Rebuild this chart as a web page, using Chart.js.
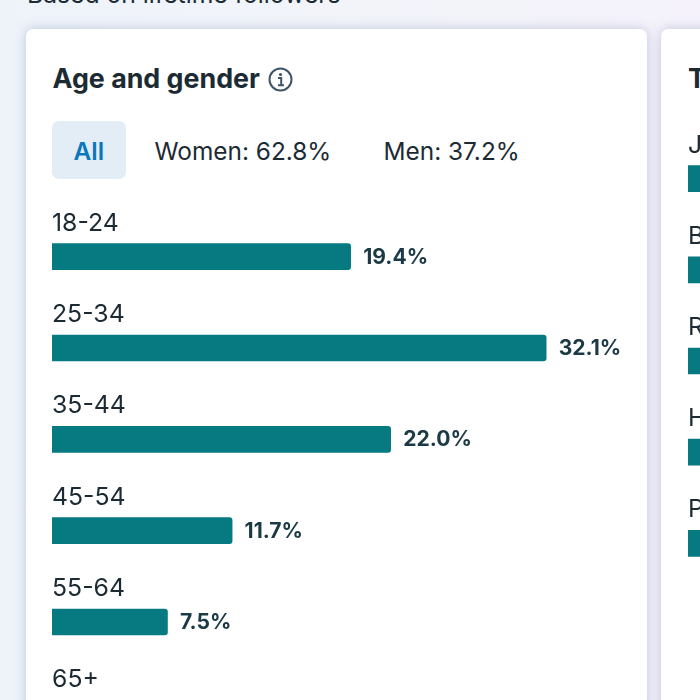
<!DOCTYPE html>
<html><head><meta charset="utf-8">
<script src="https://cdn.jsdelivr.net/npm/chart.js@4"></script>
<style>
html,body{margin:0;padding:0;width:700px;height:700px;overflow:hidden}
body{position:relative;background:linear-gradient(90deg,#eef3fa 0%,#f2f4fa 50%,#f5f2fb 100%);font-family:Inter,sans-serif;color:#1c2b33}
.abs{position:absolute;white-space:nowrap;line-height:1}
.card{position:absolute;top:29px;height:800px;background:#fff;border-radius:7px;box-shadow:0 0 12px rgba(110,130,170,.38)}
canvas{position:absolute}
</style></head><body>
<div class="abs" style="left:27px;top:-18px;font-size:24.7px">Based on lifetime followers</div>
<div class="card" style="left:26px;width:621px"></div>
<div class="card" style="left:661px;width:300px"></div>
<div class="abs" style="left:52.5px;top:65px;font-size:26.8px;font-weight:700">Age and gender</div>
<svg class="abs" style="left:268px;top:67px" width="25" height="25" viewBox="0 0 25 25"><circle cx="12.5" cy="12.5" r="11" fill="none" stroke="#3f5566" stroke-width="2"/><circle cx="12.5" cy="7.5" r="1.6" fill="#3f5566"/><path d="M10 11h3.2v7M10 18.2h6" fill="none" stroke="#3f5566" stroke-width="2"/></svg>
<div class="abs" style="left:52px;top:121px;width:74px;height:58px;background:#e3edf6;border-radius:7px"></div>
<div class="abs" style="left:73.5px;top:139px;font-size:24.4px;font-weight:600;color:#0b78bd">All</div>
<div class="abs" style="left:154.5px;top:139px;font-size:24.4px">Women: 62.8%</div>
<div class="abs" style="left:383.5px;top:139px;font-size:24.4px">Men: 37.2%</div>
<div class="abs" style="left:688px;top:65px;font-size:26.8px;font-weight:700">T</div>
<canvas id="age" style="left:52px;top:211px;width:585px;height:548px"></canvas>
<canvas id="other" style="left:688px;top:133px;width:585px;height:456px"></canvas>
<script>
const ageCategories = ["18-24","25-34","35-44","45-54","55-64","65+"];
const ageValues = [19.4,32.1,22.0,11.7,7.5,7.3];
const sideCategories = ["J","B","R","H","P"];
const sideValues = [20,14,10,8,6];
const teal = "#067a80";

const labelPlugin = {
  id:"barText",
  afterDatasetsDraw(chart,args,opts){
    const ctx = chart.ctx, meta = chart.getDatasetMeta(0), cats = chart.data.labels, vals = chart.data.datasets[0].data;
    ctx.save();
    ctx.textBaseline = "middle"; ctx.textAlign = "left";
    meta.data.forEach((bar,i)=>{
      ctx.font = "400 24.8px Inter, sans-serif"; ctx.fillStyle = "#1c2b33";
      ctx.fillText(cats[i], 0, bar.y - 33.5);
      if(opts.showValues){
        ctx.font = "700 21.1px Inter, sans-serif"; ctx.fillStyle = "#1b3a45";
        ctx.fillText(vals[i].toFixed(1)+"%", bar.x + 12.5, bar.y + 0.5);
      }
    });
    ctx.restore();
  }
};
function build(id,labels,values,showValues){
  return new Chart(document.getElementById(id),{
    type:"bar",
    data:{labels,datasets:[{data:values,backgroundColor:teal,barThickness:26,
      borderRadius:{topLeft:0,bottomLeft:0,topRight:3,bottomRight:3},borderSkipped:false}]},
    options:{indexAxis:"y",responsive:false,animation:false,
      layout:{padding:0},
      scales:{x:{display:false,min:0,max:38},y:{display:false,offset:true}},
      plugins:{legend:{display:false},tooltip:{enabled:false},barText:{showValues}}},
    plugins:[labelPlugin]
  });
}
const a=document.getElementById("age");a.width=585;a.height=548;
const o=document.getElementById("other");o.width=585;o.height=456;
build("age",ageCategories,ageValues,true);
build("other",sideCategories,sideValues,false);
</script>
</body></html>
